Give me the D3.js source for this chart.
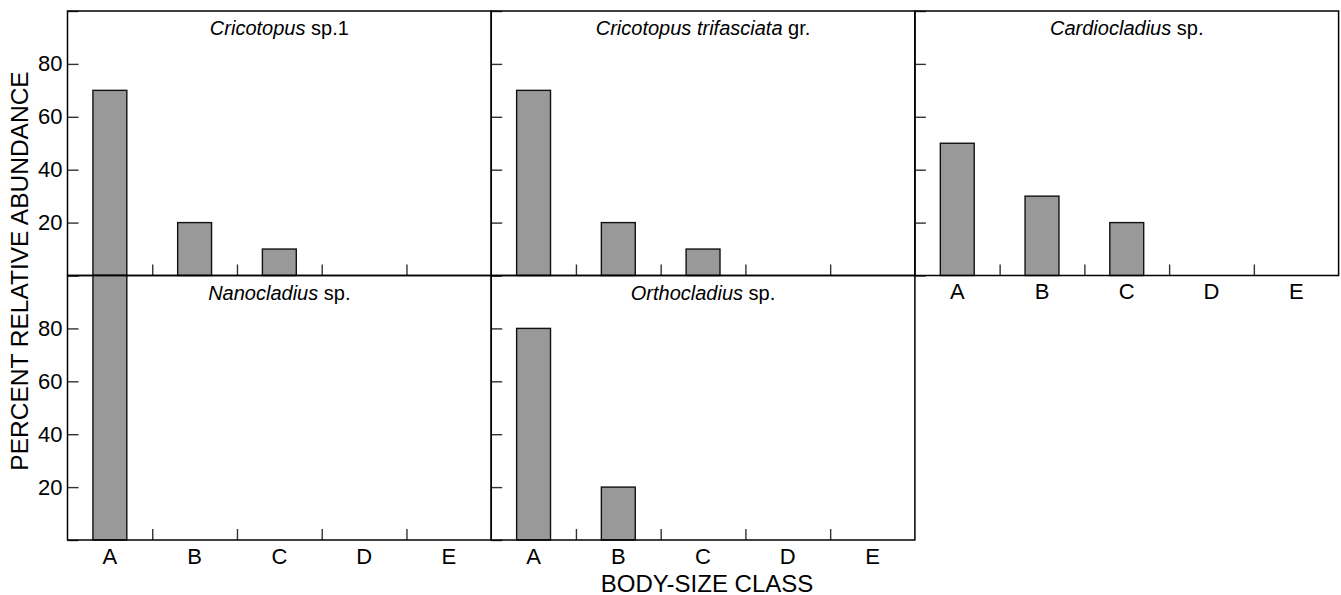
<!DOCTYPE html>
<html>
<head>
<meta charset="utf-8">
<script src="https://cdn.jsdelivr.net/npm/d3@7"></script>
<style>
  body { margin: 0; background: #fff; }
  svg { display: block; font-family: "Liberation Sans", Arial, sans-serif; }
</style>
</head>
<body>
<div id="chart"></div>
<script>
// body-size classes and values per taxon (percent)
var classes = ["A", "B", "C", "D", "E"];
var yTicks = [0, 20, 40, 60, 80, 100];

var cricotopus1 = [70, 20, 10, 0, 0];
var cricotopusTrif = [70, 20, 10, 0, 0];
var cardiocladius = [50, 30, 20, 0, 0];
var nanocladius = [100, 0, 0, 0, 0];
var orthocladius = [80, 20, 0, 0, 0];

// title parts: italic genus + plain suffix
var panels = [
    {genus: "Cricotopus", rest: " sp.1", values: cricotopus1, row: 0, col: 0},
    {genus: "Cricotopus trifasciata", rest: " gr.", values: cricotopusTrif, row: 0, col: 1},
    {genus: "Cardiocladius", rest: " sp.", values: cardiocladius, row: 0, col: 2},
    {genus: "Nanocladius", rest: " sp.", values: nanocladius, row: 1, col: 0},
    {genus: "Orthocladius", rest: " sp.", values: orthocladius, row: 1, col: 1}
];

var W = 1341, H = 595;
// note: "top" is taken by window.top, so use plotLeft/plotTop
var plotLeft = 67.5, plotTop = 11;
var colW = 423.7, rowH = 264.5;
var tickLen = 11;

var svg = d3.select("#chart").append("svg")
    .attr("width", W)
    .attr("height", H);

var x = d3.scaleBand()
    .domain(classes)
    .range([0, colW])
    .paddingInner(0.6)
    .paddingOuter(0.3);

// boundary ticks between classes
var xb = d3.scaleLinear().domain([0, classes.length]).range([0, colW]);

var y = d3.scaleLinear().domain([0, 100]).range([rowH, 0]);

panels.forEach(function (p) {
    var g = svg.append("g")
        .attr("transform", "translate(" + (plotLeft + p.col * colW) + "," + (plotTop + p.row * rowH) + ")");

    var data = classes.map(function (c, i) { return {cls: c, v: p.values[i]}; });

    // bars (drawn first, frame over them)
    g.selectAll("rect.bar")
        .data(data.filter(function (d) { return d.v > 0; }))
        .enter().append("rect")
        .attr("class", "bar")
        .attr("x", function (d) { return x(d.cls); })
        .attr("y", function (d) { return y(d.v); })
        .attr("width", x.bandwidth())
        .attr("height", function (d) { return y(0) - y(d.v); })
        .attr("fill", "#999999")
        .attr("stroke", "#111")
        .attr("stroke-width", 1.4);

    // y ticks inward, labels only on left column
    var ya = d3.axisLeft(y)
        .tickValues(yTicks)
        .tickSize(-tickLen)
        .tickPadding(5)
        .tickFormat(function (d) {
            if (p.col !== 0 || d === 0 || d === 100) return "";
            return d;
        });
    var yg = g.append("g").call(ya);
    yg.select(".domain").remove();
    yg.selectAll(".tick line").attr("stroke", "#333").attr("stroke-width", 1.4);
    yg.selectAll(".tick text")
        .attr("font-size", 22)
        .attr("fill", "#000")
        .attr("font-family", "Liberation Sans, Arial, sans-serif");

    // x boundary ticks pointing up
    var xa = d3.axisBottom(xb)
        .tickValues([1, 2, 3, 4])
        .tickSize(-tickLen)
        .tickFormat("");
    var xg = g.append("g")
        .attr("transform", "translate(0," + rowH + ")")
        .call(xa);
    xg.select(".domain").remove();
    xg.selectAll(".tick line").attr("stroke", "#333").attr("stroke-width", 1.4);

    // class labels on panels with nothing below them
    if (p.row === 1 || p.col === 2) {
        var la = d3.axisBottom(x).tickSize(0).tickPadding(8);
        var lg = g.append("g")
            .attr("transform", "translate(0," + rowH + ")")
            .call(la);
        lg.select(".domain").remove();
        lg.selectAll(".tick text")
            .attr("font-size", 22)
            .attr("fill", "#000")
            .attr("font-family", "Liberation Sans, Arial, sans-serif");
    }

    // frame
    g.append("rect")
        .attr("x", 0)
        .attr("y", 0)
        .attr("width", colW)
        .attr("height", rowH)
        .attr("fill", "none")
        .attr("stroke", "#000")
        .attr("stroke-width", 1.5);

    // title
    var t = g.append("text")
        .attr("x", colW / 2)
        .attr("y", 24)
        .attr("text-anchor", "middle")
        .attr("font-size", 20)
        .attr("fill", "#000");
    t.append("tspan").attr("font-style", "italic").text(p.genus);
    t.append("tspan").text(p.rest);
});

// y axis label
svg.append("text")
    .attr("transform", "translate(27.5," + 271 + ") rotate(-90)")
    .attr("text-anchor", "middle")
    .attr("font-size", 24.5)
    .attr("fill", "#000")
    .text("PERCENT RELATIVE ABUNDANCE");

// x axis label
svg.append("text")
    .attr("x", plotLeft + colW * 1.5 + 4)
    .attr("y", 592)
    .attr("text-anchor", "middle")
    .attr("font-size", 24)
    .attr("fill", "#000")
    .text("BODY-SIZE CLASS");
</script>
</body>
</html>
